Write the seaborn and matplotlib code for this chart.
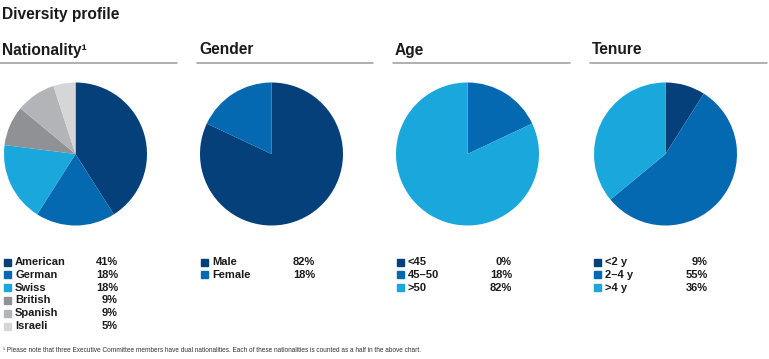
import matplotlib
matplotlib.use("Agg")
import matplotlib.pyplot as plt
import seaborn as sns

sns.set_theme(style="white")
plt.rcParams["font.family"] = ["Liberation Sans", "DejaVu Sans"]

# chart data
nat_labels = ["American", "German", "Swiss", "British", "Spanish", "Israeli"]
nat_values = [41, 18, 18, 9, 9, 5]
gender_labels = ["Male", "Female"]
gender_values = [82, 18]
age_labels = ["<45", "45\u201350", ">50"]
age_values = [0, 18, 82]
tenure_labels = ["<2 y", "2\u20134 y", ">4 y"]
tenure_values = [9, 55, 36]

navy, mid, light = "#06407A", "#0469B1", "#1AA7DC"
grey1, grey2, grey3 = "#8F9194", "#B2B4B7", "#D5D6D8"
nat_colors = [navy, mid, light, grey1, grey2, grey3]
blue_colors = sns.color_palette([navy, mid, light])

W, H = 769, 359
fig = plt.figure(figsize=(W / 100, H / 100), dpi=100)


def fx(x):
    return x / W


def fy(y):
    return 1 - y / H


fig.text(fx(2), fy(15), "Diversity profile", fontsize=11.2, fontweight="bold",
         va="center", ha="left", color="#1a1a1a")

panels = [
    ("Nationality\u00b9", nat_labels, nat_values, nat_colors, 0, 177, 75.5, 118),
    ("Gender", gender_labels, gender_values, list(blue_colors), 197, 373, 271.5, 315),
    ("Age", age_labels, age_values, list(blue_colors), 393, 570, 467.5, 512),
    ("Tenure", tenure_labels, tenure_values, list(blue_colors), 590, 767, 665.5, 708),
]

r = 71.5
cy = 154
for title, labels, values, colors, x0, x1, cx, vx in panels:
    fig.text(fx(x0 + 2), fy(50), title, fontsize=11.2, fontweight="bold",
             va="center", ha="left", color="#1a1a1a")
    fig.add_artist(plt.Line2D([fx(x0), fx(x1)], [fy(63), fy(63)],
                              color="#9a9a9a", lw=1.1))

    ax = fig.add_axes([fx(cx - r), fy(cy + r), 2 * r / W, 2 * r / H])
    ax.pie(values, colors=colors, startangle=90, counterclock=False,
           wedgeprops={"linewidth": 0})
    ax.set_xlim(-1, 1)
    ax.set_ylim(-1, 1)
    ax.set_aspect("equal")
    ax.axis("off")

    for i, (lab, val) in enumerate(zip(labels, values)):
        y = 262 + i * 12.8
        fig.patches.append(plt.Rectangle((fx(x0 + 4), fy(y + 3.5)), 7 / W, 7 / H,
                                         transform=fig.transFigure,
                                         color=colors[i], figure=fig))
        fig.text(fx(x0 + 15), fy(y), lab, fontsize=8, fontweight="bold",
                 va="center", ha="left", color="#1a1a1a")
        fig.text(fx(vx), fy(y), f"{val}%", fontsize=8, fontweight="bold",
                 va="center", ha="right", color="#1a1a1a")

fig.text(fx(3), fy(350),
         "\u00b9 Please note that three Executive Committee members have dual nationalities. "
         "Each of these nationalities is counted as a half in the above chart.",
         fontsize=4.7, va="center", ha="left", color="#333333")

fig.savefig("out.png", dpi=100)
